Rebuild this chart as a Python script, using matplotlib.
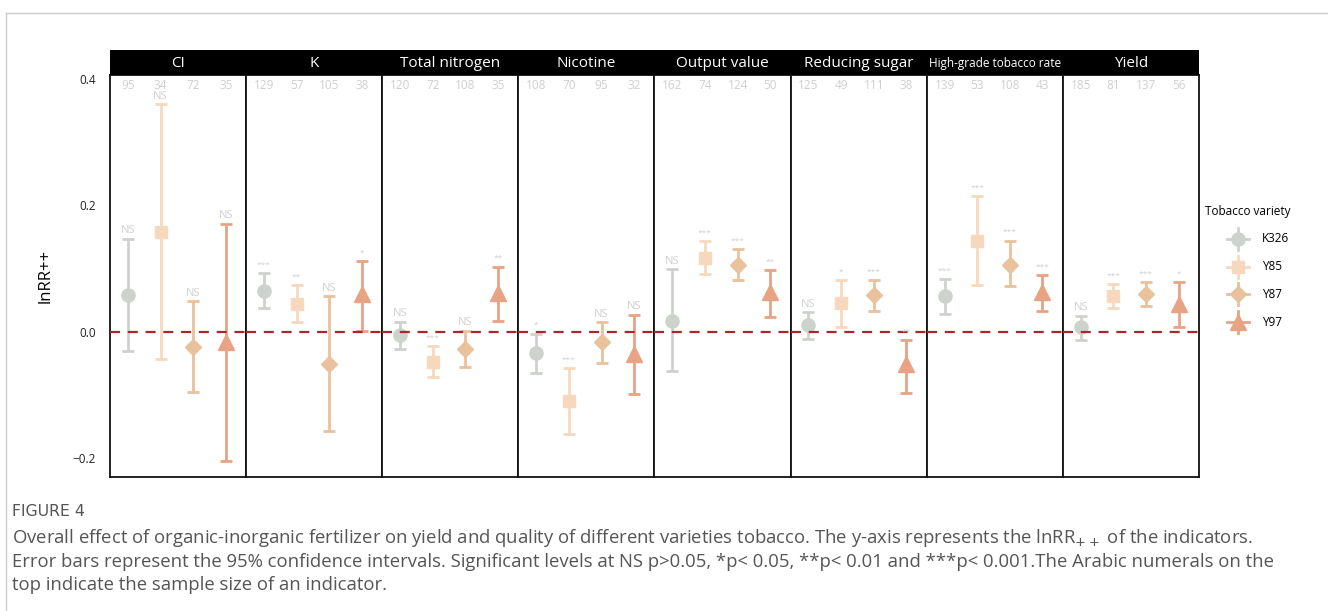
import matplotlib
matplotlib.use("Agg")
import matplotlib.pyplot as plt
import numpy as np

plt.rcParams['font.family'] = ['Open Sans', 'DejaVu Sans']

# ---- data ----
indicators = ['CI', 'K', 'Total nitrogen', 'Nicotine', 'Output value',
              'Reducing sugar', 'High-grade tobacco rate', 'Yield']
varieties = ['K326', 'Y85', 'Y87', 'Y97']

effect = [[0.058, 0.158, -0.024, -0.016],
          [0.065, 0.044, -0.052, 0.060],
          [-0.006, -0.048, -0.028, 0.061],
          [-0.034, -0.110, -0.017, -0.035],
          [0.017, 0.117, 0.106, 0.062],
          [0.010, 0.045, 0.058, -0.051],
          [0.056, 0.143, 0.106, 0.062],
          [0.007, 0.057, 0.059, 0.044]]
ci_low = [[-0.031, -0.044, -0.096, -0.204],
          [0.037, 0.015, -0.158, 0.001],
          [-0.027, -0.072, -0.056, 0.017],
          [-0.065, -0.162, -0.049, -0.099],
          [-0.063, 0.091, 0.082, 0.023],
          [-0.011, 0.007, 0.033, -0.097],
          [0.028, 0.073, 0.072, 0.032],
          [-0.013, 0.037, 0.040, 0.007]]
ci_high = [[0.147, 0.360, 0.048, 0.171],
           [0.093, 0.073, 0.056, 0.111],
           [0.016, -0.023, 0.001, 0.103],
           [-0.003, -0.058, 0.015, 0.027],
           [0.099, 0.143, 0.130, 0.098],
           [0.031, 0.082, 0.081, -0.014],
           [0.083, 0.214, 0.144, 0.090],
           [0.025, 0.075, 0.078, 0.078]]
n_obs = [[95, 34, 72, 35],
         [129, 57, 105, 38],
         [120, 72, 108, 35],
         [108, 70, 95, 32],
         [162, 74, 124, 50],
         [125, 49, 111, 38],
         [139, 53, 108, 43],
         [185, 81, 137, 56]]
signif = [['NS', 'NS', 'NS', 'NS'],
          ['***', '**', 'NS', '*'],
          ['NS', '***', 'NS', '**'],
          ['*', '***', 'NS', 'NS'],
          ['NS', '***', '***', '**'],
          ['NS', '*', '***', '**'],
          ['***', '***', '***', '***'],
          ['NS', '***', '***', '*']]

colors = ['#CDD3CC', '#F6D9BD', '#E9C19C', '#E8A385']
markers = ['o', 's', 'D', '^']
msizes = [9.5, 9, 8.5, 11]

W, H = 1328, 611
fig = plt.figure(figsize=(W / 100, H / 100), dpi=100)

def px(x0, y0, w, h):
    # pixel box (top-left origin) -> figure fraction
    return [x0 / W, 1 - (y0 + h) / H, w / W, h / H]

left, pw, top, bot, strip_top = 110, 136.1, 75, 477, 50
ylo, yhi = -0.230, 0.406

for i, name in enumerate(indicators):
    ax = fig.add_axes(px(left + i * pw, top, pw, bot - top))
    ax.set_xlim(0.45, 4.62)
    ax.set_ylim(ylo, yhi)
    ax.axhline(0, color='#A8282A', lw=1.6, ls=(0, (4.5, 3.5)), zorder=3)
    for j in range(4):
        e = effect[i][j]
        lo, hi = ci_low[i][j], ci_high[i][j]
        ax.errorbar(j + 1, e, yerr=[[e - lo], [hi - e]], fmt=markers[j],
                    color=colors[j], ms=msizes[j], elinewidth=2, capsize=4.5,
                    capthick=2, zorder=2)
        ax.text(j + 1, 0.390, str(n_obs[i][j]), ha='center', va='center',
                color='#CFCFCF', fontsize=8.5)
        s = signif[i][j]
        if s == 'NS':
            ax.text(j + 1, hi + 0.004, s, ha='center', va='bottom',
                    color='#CFCFCF', fontsize=8)
        else:
            ax.text(j + 1, hi + 0.007, s, ha='center', va='bottom',
                    color='#CFCFCF', fontsize=6)
    for sp in ax.spines.values():
        sp.set_color('#111111')
        sp.set_linewidth(1.3)
    ax.set_xticks([])
    if i == 0:
        ax.set_yticks([-0.2, 0.0, 0.2, 0.4])
        ax.set_yticklabels(['\u22120.2', '0.0', '0.2', '0.4'])
        ax.tick_params(axis='y', length=0, pad=10, labelsize=8.5,
                       labelcolor='#222222')
        ax.set_ylabel('lnRR++', fontsize=12, labelpad=14)
    else:
        ax.set_yticks([])

    sax = fig.add_axes(px(left + i * pw, strip_top, pw, top - strip_top))
    sax.set_facecolor('black')
    sax.set_xticks([])
    sax.set_yticks([])
    for sp in sax.spines.values():
        sp.set_visible(False)
    fs = 8.5 if len(name) > 20 else 11
    sax.text(0.5, 0.45, name, ha='center', va='center', color='white',
             fontsize=fs, transform=sax.transAxes)

# legend
lax = fig.add_axes([0, 0, 1, 1], facecolor='none')
lax.set_xlim(0, W)
lax.set_ylim(H, 0)
lax.axis('off')
lax.text(1205, 212, 'Tobacco variety', ha='left', va='center', fontsize=8.5)
for k, v in enumerate(varieties):
    yk = 239 + k * 27.7
    lax.plot([1227, 1249], [yk, yk], color=colors[k], lw=2)
    lax.plot([1238, 1238], [yk - 11, yk + 11], color=colors[k], lw=2)
    lax.plot(1238, yk, marker=markers[k], color=colors[k], ms=msizes[k])
    lax.text(1262, yk, v, ha='left', va='center', fontsize=8.5)

# page frame
lax.plot([6, W], [13, 13], color='#CCCCCC', lw=1)
lax.plot([6, 6], [13, H], color='#CCCCCC', lw=1)

# caption
lax.text(12, 511, 'FIGURE 4', ha='left', va='center', fontsize=11.3,
         color='#555555', family=['Liberation Sans Narrow', 'DejaVu Sans'])
caption = [
    'Overall effect of organic-inorganic fertilizer on yield and quality of different varieties tobacco. '
    'The y-axis represents the lnRR$_{++}$ of the indicators.',
    'Error bars represent the 95% confidence intervals. Significant levels at NS p>0.05, *p< 0.05, '
    '**p< 0.01 and ***p< 0.001.The Arabic numerals on the',
    'top indicate the sample size of an indicator.',
]
for k, line in enumerate(caption):
    lax.text(12, 538 + k * 23.7, line, ha='left', va='center', fontsize=13.35,
             color='#555555')

fig.savefig('out.png', dpi=100)
